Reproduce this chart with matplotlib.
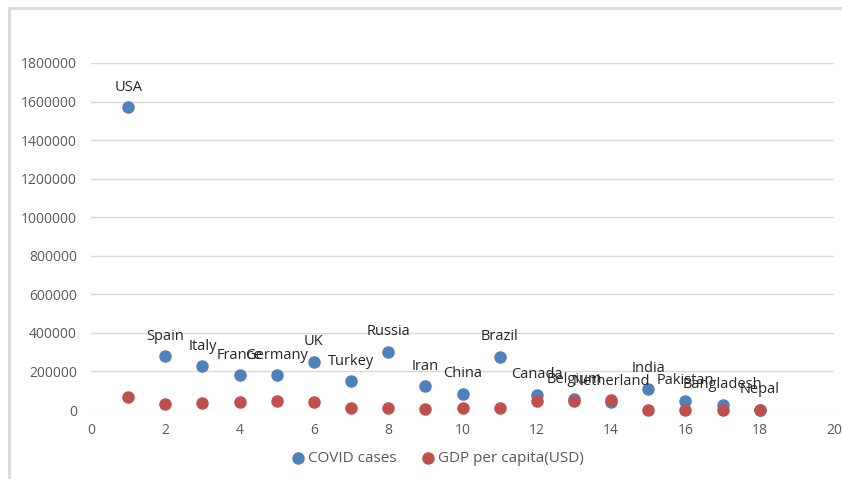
import matplotlib
matplotlib.use("Agg")
from matplotlib import pyplot as plt
from matplotlib.patches import Rectangle
import numpy as np

plt.rcParams['font.family'] = ['Open Sans', 'DejaVu Sans']

countries = ["USA", "Spain", "Italy", "France", "Germany", "UK", "Turkey", "Russia",
             "Iran", "China", "Brazil", "Canada", "Belgium", "Netherland", "India",
             "Pakistan", "Bangladesh", "Nepal"]
rank = np.arange(1, len(countries) + 1)
covid_cases = [1571000, 280000, 228000, 181000, 181000, 249000, 150000, 301000,
               124000, 83000, 275000, 80000, 57000, 44000, 110000, 47000, 26000, 300]
gdp_per_capita = [65000, 30000, 34000, 42000, 48000, 42000, 9000, 11000,
                  5000, 10000, 9000, 46000, 46000, 52000, 2000, 1500, 1700, 1000]

W, H = 842, 479
fig = plt.figure(figsize=(W / 100, H / 100), dpi=100)
ax = fig.add_axes([91 / W, 1 - 410 / H, (834 - 91) / W, (410 - 63) / H])

# outer chart frame (only top and left edges fall inside the canvas)
fig.patches.append(Rectangle((9 / W, -0.1), 1.2, 1 - 8 / H + 0.1, transform=fig.transFigure,
                             fill=False, edgecolor='#d9d9d9', linewidth=2))

blue = '#4f81bd'
red = '#c0504d'
ax.scatter(rank, covid_cases, s=64, color=blue, label='COVID cases', zorder=3, clip_on=False)
ax.scatter(rank, gdp_per_capita, s=64, color=red, label='GDP per capita(USD)', zorder=4, clip_on=False)

for x, y, name in zip(rank, covid_cases, countries):
    ax.annotate(name, (x, y), xytext=(0, 9), textcoords='offset points',
                ha='center', va='bottom', fontsize=10.5, color='#262626', zorder=5)

ax.set_xlim(0, 20)
ax.set_ylim(0, 1800000)
ax.set_xticks(range(0, 21, 2))
ax.set_yticks(range(0, 1800001, 200000))
ax.yaxis.set_major_formatter(matplotlib.ticker.FuncFormatter(lambda v, p: f"{int(v)}"))
ax.grid(axis='y', color='#d9d9d9', linewidth=1)
ax.set_axisbelow(True)
for side in ax.spines.values():
    side.set_visible(False)
ax.tick_params(length=0, labelsize=10, labelcolor='#595959')
ax.tick_params(axis='x', pad=9)
ax.tick_params(axis='y', pad=10)

fig.legend(*ax.get_legend_handles_labels(), loc='center', bbox_to_anchor=(437 / W, 1 - 459 / H),
           ncol=2, frameon=False, fontsize=11, labelcolor='#595959', handlelength=1.0,
           handletextpad=0.15, columnspacing=1.6, markerscale=1.0)

fig.savefig('out.png', dpi=100)
